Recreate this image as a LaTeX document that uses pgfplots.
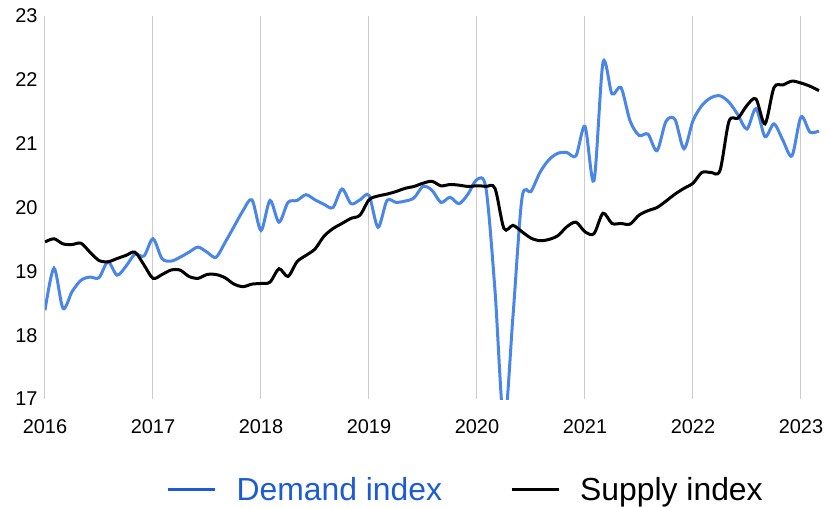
\documentclass[border=0pt]{standalone}
\usepackage{pgfplots}
\pgfplotsset{compat=1.18}
\usepackage{fontspec}
\setmainfont{Liberation Sans}
\definecolor{demblue}{HTML}{4A86E8}
\definecolor{legblue}{HTML}{1B5CD6}
\definecolor{gridgray}{HTML}{CCCCCC}

\begin{document}
\begin{tikzpicture}
\begin{axis}[
  name=ax,
  scale only axis,
  width=775bp, height=383bp,
  xmin=2016, xmax=2023.176,
  ymin=17, ymax=23,
  xtick={2016,2017,2018,2019,2020,2021,2022,2023},
  ytick={17,18,19,20,21,22,23},
  xticklabel style={/pgf/number format/1000 sep={}, yshift=-17bp},
  yticklabel style={xshift=-4bp},
  /pgf/number format/assume math mode=true,
  tick label style={font=\fontsize{20}{23}\selectfont},
  axis line style={draw=none},
  major tick length=0pt,
  xmajorgrids,
  grid style={gridgray, line width=1bp},
  legend columns=2,
  legend style={draw=none, fill=none, inner sep=0pt, anchor=center,
    at={(0.5415,-0.2375)},
    font=\fontsize{32}{36}\selectfont,
    nodes={inner sep=0pt},
    /tikz/every odd column/.append style={column sep=20bp},
    /tikz/every even column/.append style={column sep=68bp}},
  legend image code/.code={\draw[#1] (0bp,0bp) -- (47bp,0bp);},
]
\addlegendimage{legblue, line width=3bp}
\addlegendentry{\textcolor{legblue}{Demand index}}
\addlegendimage{black, line width=3bp}
\addlegendentry{Supply index}

% Demand index (monthly, Jan 2016 - Mar 2023)
\addplot[demblue, line width=3bp, smooth, tension=0.5, forget plot] table[row sep=\\] {
x y\\
2016.0000 18.39\\
2016.0833 19.05\\
2016.1667 18.42\\
2016.2500 18.68\\
2016.3333 18.86\\
2016.4167 18.91\\
2016.5000 18.90\\
2016.5833 19.15\\
2016.6667 18.94\\
2016.7500 19.08\\
2016.8333 19.27\\
2016.9167 19.24\\
2017.0000 19.51\\
2017.0833 19.20\\
2017.1667 19.16\\
2017.2500 19.22\\
2017.3333 19.30\\
2017.4167 19.38\\
2017.5000 19.30\\
2017.5833 19.22\\
2017.6667 19.45\\
2017.7500 19.70\\
2017.8333 19.95\\
2017.9167 20.12\\
2018.0000 19.64\\
2018.0833 20.11\\
2018.1667 19.77\\
2018.2500 20.08\\
2018.3333 20.11\\
2018.4167 20.20\\
2018.5000 20.12\\
2018.5833 20.05\\
2018.6667 20.00\\
2018.7500 20.29\\
2018.8333 20.06\\
2018.9167 20.12\\
2019.0000 20.19\\
2019.0833 19.69\\
2019.1667 20.11\\
2019.2500 20.08\\
2019.3333 20.10\\
2019.4167 20.15\\
2019.5000 20.33\\
2019.5833 20.27\\
2019.6667 20.08\\
2019.7500 20.16\\
2019.8333 20.06\\
2019.9167 20.21\\
2020.0000 20.44\\
2020.0833 20.30\\
2020.1667 18.70\\
2020.2500 16.60\\
2020.3333 18.30\\
2020.4167 20.15\\
2020.5000 20.25\\
2020.5833 20.55\\
2020.6667 20.75\\
2020.7500 20.85\\
2020.8333 20.86\\
2020.9167 20.81\\
2021.0000 21.27\\
2021.0833 20.42\\
2021.1667 22.27\\
2021.2500 21.78\\
2021.3333 21.88\\
2021.4167 21.36\\
2021.5000 21.13\\
2021.5833 21.15\\
2021.6667 20.89\\
2021.7500 21.35\\
2021.8333 21.38\\
2021.9167 20.92\\
2022.0000 21.36\\
2022.0833 21.60\\
2022.1667 21.72\\
2022.2500 21.75\\
2022.3333 21.65\\
2022.4167 21.45\\
2022.5000 21.23\\
2022.5833 21.55\\
2022.6667 21.11\\
2022.7500 21.31\\
2022.8333 21.05\\
2022.9167 20.81\\
2023.0000 21.42\\
2023.0833 21.18\\
2023.1667 21.20\\
};

% Supply index (monthly, Jan 2016 - Mar 2023)
\addplot[black, line width=3bp, smooth, tension=0.5, forget plot] table[row sep=\\] {
x y\\
2016.0000 19.46\\
2016.0833 19.51\\
2016.1667 19.43\\
2016.2500 19.42\\
2016.3333 19.44\\
2016.4167 19.30\\
2016.5000 19.17\\
2016.5833 19.15\\
2016.6667 19.20\\
2016.7500 19.25\\
2016.8333 19.30\\
2016.9167 19.10\\
2017.0000 18.89\\
2017.0833 18.95\\
2017.1667 19.02\\
2017.2500 19.02\\
2017.3333 18.92\\
2017.4167 18.89\\
2017.5000 18.95\\
2017.5833 18.95\\
2017.6667 18.90\\
2017.7500 18.80\\
2017.8333 18.76\\
2017.9167 18.80\\
2018.0000 18.81\\
2018.0833 18.83\\
2018.1667 19.04\\
2018.2500 18.92\\
2018.3333 19.15\\
2018.4167 19.25\\
2018.5000 19.35\\
2018.5833 19.55\\
2018.6667 19.67\\
2018.7500 19.75\\
2018.8333 19.83\\
2018.9167 19.88\\
2019.0000 20.12\\
2019.0833 20.18\\
2019.1667 20.21\\
2019.2500 20.25\\
2019.3333 20.30\\
2019.4167 20.33\\
2019.5000 20.38\\
2019.5833 20.41\\
2019.6667 20.34\\
2019.7500 20.36\\
2019.8333 20.35\\
2019.9167 20.33\\
2020.0000 20.34\\
2020.0833 20.33\\
2020.1667 20.30\\
2020.2500 19.67\\
2020.3333 19.72\\
2020.4167 19.62\\
2020.5000 19.52\\
2020.5833 19.48\\
2020.6667 19.50\\
2020.7500 19.56\\
2020.8333 19.70\\
2020.9167 19.77\\
2021.0000 19.62\\
2021.0833 19.59\\
2021.1667 19.91\\
2021.2500 19.75\\
2021.3333 19.75\\
2021.4167 19.74\\
2021.5000 19.88\\
2021.5833 19.95\\
2021.6667 20.00\\
2021.7500 20.10\\
2021.8333 20.21\\
2021.9167 20.30\\
2022.0000 20.38\\
2022.0833 20.55\\
2022.1667 20.55\\
2022.2500 20.58\\
2022.3333 21.35\\
2022.4167 21.40\\
2022.5000 21.60\\
2022.5833 21.70\\
2022.6667 21.31\\
2022.7500 21.88\\
2022.8333 21.92\\
2022.9167 21.98\\
2023.0000 21.95\\
2023.0833 21.90\\
2023.1667 21.83\\
};
\end{axis}
\pgfresetboundingbox
\path ([shift={(-45bp,-109bp)}]ax.south west) rectangle ([shift={(784bp,399bp)}]ax.south west);
\end{tikzpicture}
\end{document}
